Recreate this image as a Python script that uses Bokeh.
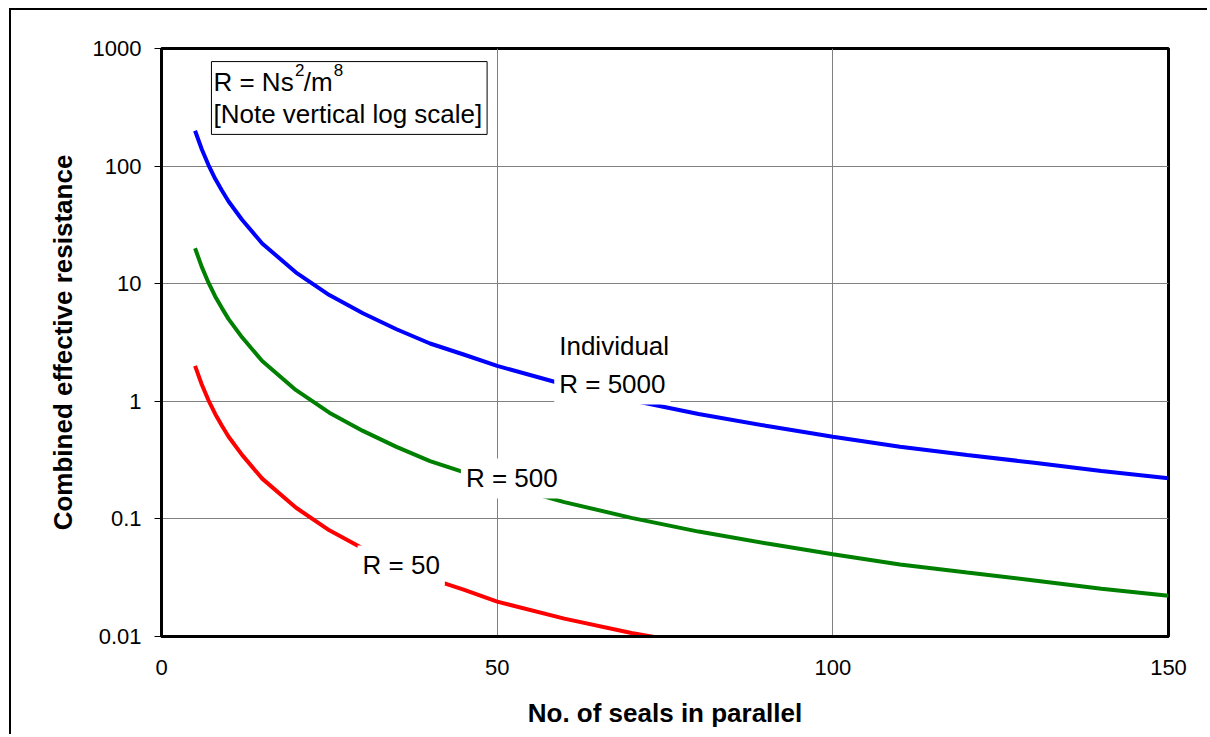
from bokeh.plotting import figure
from bokeh.models import Range1d, FixedTicker, CustomJSTickFormatter, Label, BoxAnnotation
from bokeh.embed import file_html
from bokeh.resources import INLINE

# ---- data ----
n_seals = [5, 6, 7, 8, 9, 10, 12, 15, 20, 25, 30, 35, 40, 45, 50, 60, 70, 80, 90, 100, 110, 120, 130, 140, 150]
r_5000 = [200, 139, 102, 78, 62, 50, 35, 22, 12.5, 8.0, 5.6, 4.1, 3.1, 2.5, 2.0, 1.39, 1.02, 0.78, 0.62, 0.50, 0.41, 0.35, 0.30, 0.255, 0.222]
r_500 = [20, 13.9, 10.2, 7.8, 6.2, 5.0, 3.5, 2.2, 1.25, 0.80, 0.56, 0.41, 0.31, 0.25, 0.20, 0.139, 0.102, 0.078, 0.062, 0.050, 0.041, 0.035, 0.030, 0.0255, 0.0222]
r_50 = [2.0, 1.39, 1.02, 0.78, 0.62, 0.50, 0.35, 0.22, 0.125, 0.080, 0.056, 0.041, 0.031, 0.025, 0.0198, 0.0142, 0.0107, 0.0085, 0.0068, 0.0055, 0.0045, 0.0037, 0.0031, 0.0026, 0.0022]
x_ticks = [0, 50, 100, 150]
y_ticks = [0.01, 0.1, 1, 10, 100, 1000]

FONT = "Liberation Sans"

p = figure(width=1198, height=726, output_backend="svg", toolbar_location=None,
           y_axis_type="log", x_range=Range1d(0, 150), y_range=Range1d(0.01, 1000),
           min_border_left=150, min_border_top=38, min_border_right=41, min_border_bottom=100)
p.styles = {"margin-left": "9px", "margin-top": "8px",
            "border-top": "2px solid black", "border-left": "2px solid black"}
p.background_fill_color = "white"
p.border_fill_color = "white"
p.outline_line_color = "black"
p.outline_line_width = 3

p.line(n_seals, r_5000, line_color="#0000FF", line_width=4)
p.line(n_seals, r_500, line_color="#008000", line_width=4)
p.line(n_seals, r_50, line_color="#FF0000", line_width=4)

# axes
xa = p.xaxis[0]
xa.ticker = FixedTicker(ticks=x_ticks)
xa.major_tick_out = 0
xa.major_tick_in = 0
xa.minor_tick_out = 0
xa.minor_tick_in = 0
xa.axis_line_width = 3
xa.axis_line_color = "black"
xa.major_label_text_font = FONT
xa.major_label_text_font_size = "22px"
xa.major_label_text_color = "black"
xa.major_label_standoff = 23
xa.axis_label = "No. of seals in parallel"
xa.axis_label_text_font = FONT
xa.axis_label_text_font_size = "26px"
xa.axis_label_text_font_style = "bold"
xa.axis_label_text_color = "black"
xa.axis_label_standoff = 20

ya = p.yaxis[0]
ya.ticker = FixedTicker(ticks=y_ticks)
ya.formatter = CustomJSTickFormatter(code="return tick.toString();")
ya.major_tick_out = 7
ya.major_tick_in = 0
ya.major_tick_line_color = "black"
ya.minor_tick_out = 0
ya.minor_tick_in = 0
ya.axis_line_width = 3
ya.axis_line_color = "black"
ya.major_label_text_font = FONT
ya.major_label_text_font_size = "22px"
ya.major_label_text_color = "black"
ya.major_label_standoff = 13
ya.axis_label = "Combined effective resistance"
ya.axis_label_text_font = FONT
ya.axis_label_text_font_size = "26px"
ya.axis_label_text_font_style = "bold"
ya.axis_label_text_color = "black"
ya.axis_label_standoff = 12

p.xgrid.ticker = FixedTicker(ticks=x_ticks)
p.ygrid.ticker = FixedTicker(ticks=y_ticks)
for g in (p.xgrid[0], p.ygrid[0]):
    g.grid_line_color = "#808080"
    g.grid_line_width = 1
p.ygrid[0].minor_grid_line_color = None

# note box
p.add_layout(BoxAnnotation(left=7.44, right=48.5, top=774, bottom=186,
                           fill_color="white", fill_alpha=1.0,
                           line_color="black", line_alpha=1.0, line_width=1))

def lab(x, y, t, size="26px", bg=None):
    kw = dict(x=x, y=y, text=t, text_font=FONT, text_font_size=size,
              text_color="black", text_baseline="middle", text_align="left")
    if bg:
        kw.update(background_fill_color=bg, background_fill_alpha=1.0, padding=5)
    p.add_layout(Label(**kw))

lab(7.74, 514, "R = Ns")
lab(19.9, 655, "2", size="17px")
lab(21.2, 514, "/m")
lab(25.65, 655, "8", size="17px")
lab(7.74, 275, "[Note vertical log scale]")

lab(58.5, 2.98, "Individual", bg="white")
lab(58.5, 1.39, "R = 5000", bg="white")
lab(44.6, 0.221, "R = 500", bg="white")
lab(29.2, 0.0402, "R = 50", bg="white")

open("out.html", "w").write(file_html(p, INLINE))
